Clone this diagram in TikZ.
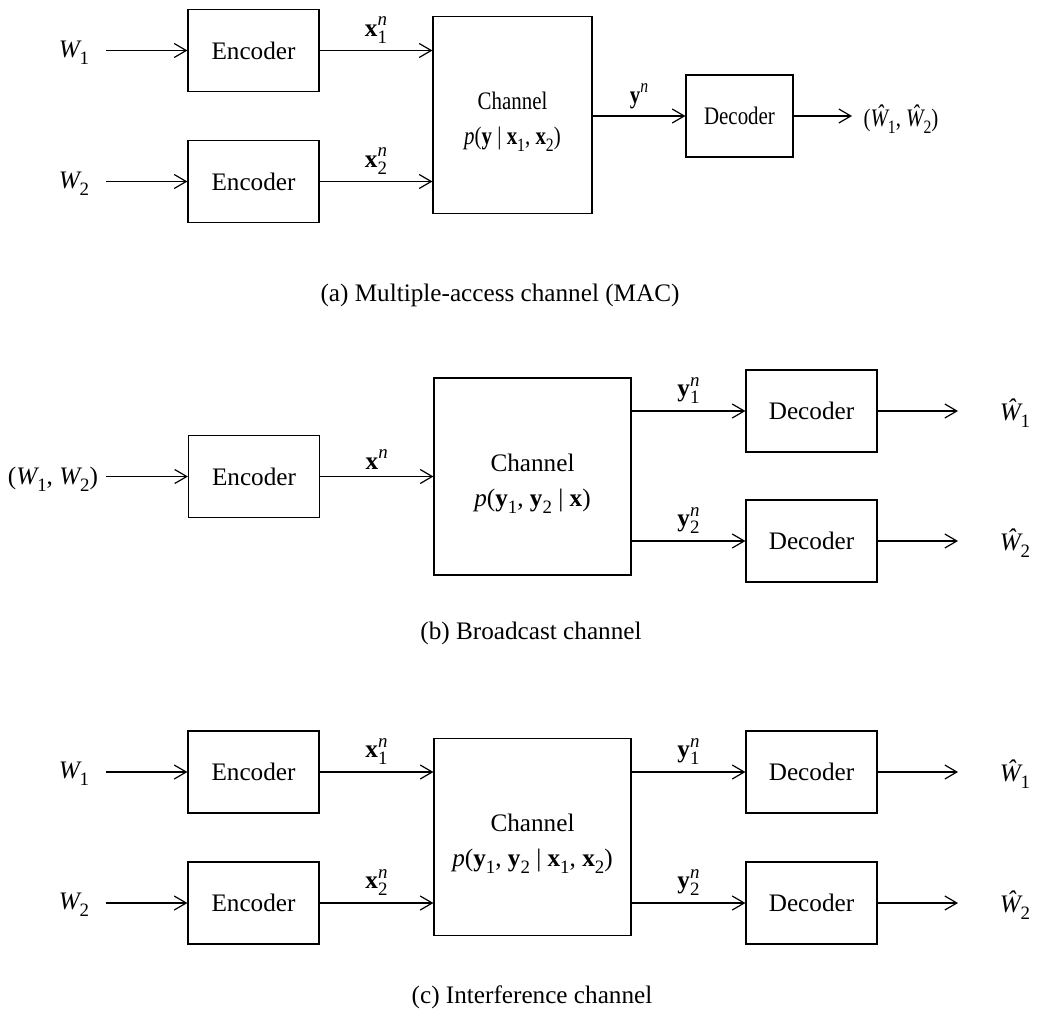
\documentclass[tikz,border=0pt]{standalone}
\usepackage{fontspec}
\setmainfont{Liberation Serif}
\usetikzlibrary{arrows.meta,positioning}

\newcommand{\dn}[1]{\raisebox{-0.6ex}{\scalebox{0.75}{#1}}}
\newcommand{\up}[1]{\raisebox{0.9ex}{\scalebox{0.75}{\itshape #1}}}
\newcommand{\vx}{\textbf{x}}
\newcommand{\vy}{\textbf{y}}
\newcommand{\Wi}[1]{\textit{W}\kern-0.08em\dn{#1}}
\newcommand{\Wh}[1]{\textit{\^{W}}\kern-0.08em\dn{#1}}
\newcommand{\sv}[3]{#1\rlap{\dn{#2}}\up{#3}}
\newcommand{\nw}[1]{\scalebox{0.83}[1]{#1}}

\begin{document}
\begin{tikzpicture}[x=0.5pt,y=-0.5pt,
  font=\fontsize{12.6}{17.5}\selectfont,
  >={Straight Barb[length=6pt,width=7pt]},line width=0.6pt,
  blk/.style={draw,inner sep=0pt,minimum width=65.5pt,minimum height=41pt},
  chan/.style={blk,minimum width=98.5pt,minimum height=98.5pt},
  ctext/.style={align=center,inner sep=0pt},
  lbl/.style={inner sep=1pt}]
\useasboundingbox (0,0) rectangle (1059,1017);
%
% (a) multiple-access channel
\node[blk] (a-enc1) at (253.5,50.5) {Encoder};
\node[blk] (a-enc2) at (253.5,181.5) {Encoder};
\node[chan,minimum width=79.5pt] (a-ch) at (512.5,115) {};
\node[ctext] (a-cht) at ([yshift=-3.5pt]a-ch.center) {\nw{Channel}\\\nw{\textit{p}(\vy{} | \vx\dn{1}, \vx\dn{2})}};
\node[blk,minimum width=53.5pt] (a-dec) at (739.5,116) {\nw{Decoder}};
\coordinate (a-s1) at (106,50.5);
\coordinate (a-s2) at (106,181.5);
\coordinate (a-e) at (852,116);
\node[lbl] (a-w1) at (74,53) {\Wi{1}};
\node[lbl] (a-w2) at (74,184) {\Wi{2}};
\node[lbl,anchor=west] (a-out) at (861,119) {\nw{(\Wh{1}, \Wh{2})}};
%
\draw[->] (a-s1) -- (a-enc1);
\draw[->] (a-s2) -- (a-enc2);
\draw[->] (a-enc1) -- (a-enc1 -| a-ch.west) node[midway,above=0pt] {\sv{\vx}{1}{n}};
\draw[->] (a-enc2) -- (a-enc2 -| a-ch.west) node[midway,above=0pt] {\sv{\vx}{2}{n}};
\draw[->] (a-ch.east |- a-dec) -- (a-dec) node[midway,above=0pt] {\nw{\vy\up{n}}};
\draw[->] (a-dec) -- (a-e);
%
\node (a-cap) at (500,295) {(a) Multiple-access channel (MAC)};
%
% (b) broadcast channel
\node[blk] (b-enc) at (254,476.5) {Encoder};
\node[chan] (b-ch) at (532.5,476.5) {};
\node[ctext] (b-cht) at ([yshift=-3.5pt]b-ch.center) {Channel\\\textit{p}(\vy\dn{1}, \vy\dn{2} | \vx)};
\node[blk] (b-dec1) at (811.5,411) {Decoder};
\node[blk] (b-dec2) at (811.5,541) {Decoder};
\coordinate (b-s) at (106,476.5);
\coordinate (b-e1) at (958,411);
\coordinate (b-e2) at (958,541);
\node[lbl] (b-w) at (53,479) {(\Wi{1}, \Wi{2})};
\node[lbl] (b-out1) at (1015,413) {\Wh{1}};
\node[lbl] (b-out2) at (1015,543) {\Wh{2}};
%
\draw[->] (b-s) -- (b-enc);
\draw[->] (b-enc) -- (b-enc -| b-ch.west) node[midway,above=0pt] {\vx\up{n}};
\draw[->] (b-ch.east |- b-dec1) -- (b-dec1) node[midway,above=0pt] {\sv{\vy}{1}{n}};
\draw[->] (b-ch.east |- b-dec2) -- (b-dec2) node[midway,above=0pt] {\sv{\vy}{2}{n}};
\draw[->] (b-dec1) -- (b-e1);
\draw[->] (b-dec2) -- (b-e2);
%
\node (b-cap) at (531,633) {(b) Broadcast channel};
%
% (c) interference channel
\node[blk] (c-enc1) at (253.5,772) {Encoder};
\node[blk] (c-enc2) at (253.5,903) {Encoder};
\node[chan] (c-ch) at (532.5,837) {};
\node[ctext] (c-cht) at ([yshift=-3.5pt]c-ch.center) {Channel\\\textit{p}(\vy\dn{1}, \vy\dn{2} | \vx\dn{1}, \vx\dn{2})};
\node[blk] (c-dec1) at (811.5,772) {Decoder};
\node[blk] (c-dec2) at (811.5,903) {Decoder};
\coordinate (c-s1) at (106,772);
\coordinate (c-s2) at (106,903);
\coordinate (c-e1) at (958,772);
\coordinate (c-e2) at (958,903);
\node[lbl] (c-w1) at (74,774) {\Wi{1}};
\node[lbl] (c-w2) at (74,905) {\Wi{2}};
\node[lbl] (c-out1) at (1015,774) {\Wh{1}};
\node[lbl] (c-out2) at (1015,905) {\Wh{2}};
%
\draw[->] (c-s1) -- (c-enc1);
\draw[->] (c-s2) -- (c-enc2);
\draw[->] (c-enc1) -- (c-enc1 -| c-ch.west) node[midway,above=0pt] {\sv{\vx}{1}{n}};
\draw[->] (c-enc2) -- (c-enc2 -| c-ch.west) node[midway,above=0pt] {\sv{\vx}{2}{n}};
\draw[->] (c-ch.east |- c-dec1) -- (c-dec1) node[midway,above=0pt] {\sv{\vy}{1}{n}};
\draw[->] (c-ch.east |- c-dec2) -- (c-dec2) node[midway,above=0pt] {\sv{\vy}{2}{n}};
\draw[->] (c-dec1) -- (c-e1);
\draw[->] (c-dec2) -- (c-e2);
%
\node (c-cap) at (532,997) {(c) Interference channel};
\end{tikzpicture}
\end{document}
